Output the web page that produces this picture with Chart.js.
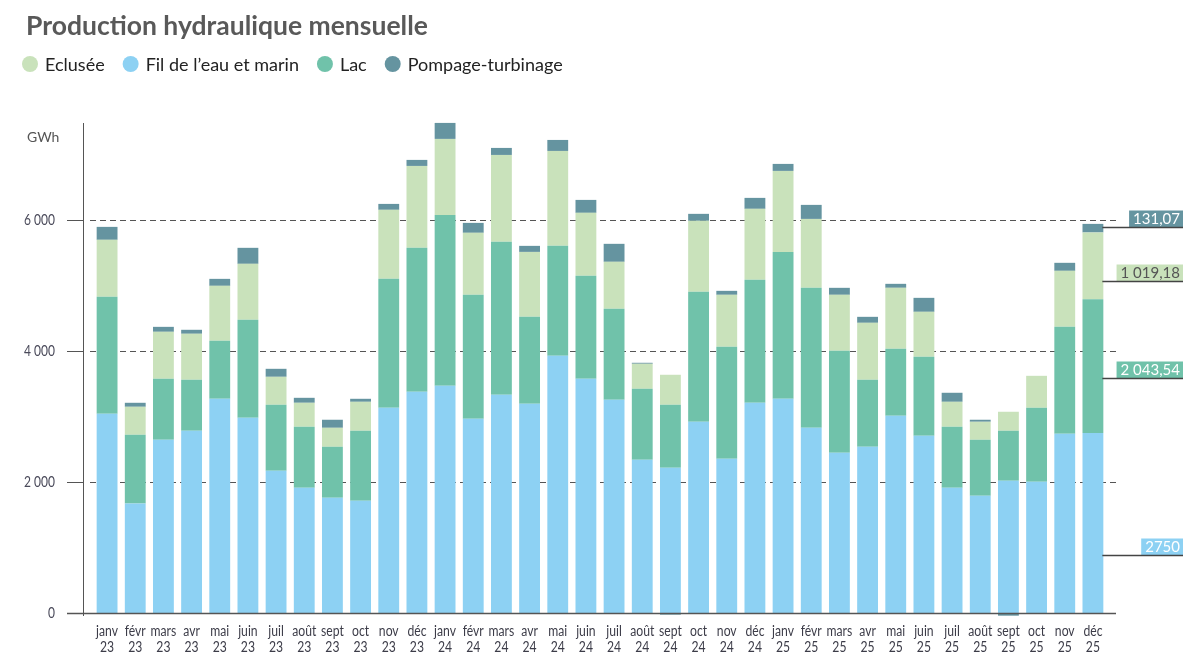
<!DOCTYPE html>
<html><head><meta charset="utf-8">
<script src="https://cdn.jsdelivr.net/npm/chart.js@4"></script>
<style>html,body{margin:0;padding:0;background:#fff}#wrap{width:1202px;height:662px;position:relative}canvas{display:block}</style>
</head><body><div id="wrap"><canvas id="c" width="1202" height="662"></canvas></div>
<script>
const chartTitle = 'Production hydraulique mensuelle';
const unitLabel = 'GWh';
const months = ['janv','févr','mars','avr','mai','juin','juil','août','sept','oct','nov','déc'];
const years = ['23','24','25'];
const seriesNames = ['Fil de l’eau et marin','Lac','Eclusée','Pompage-turbinage'];
const legendOrder = ['Eclusée','Fil de l’eau et marin','Lac','Pompage-turbinage'];
const yTicks = [0, 2000, 4000, 6000];

const filEau = [3043,1674,2646,2784,3272,2982,2173,1913,1761,1715,3135,3379,
                3471,2967,3333,3196,3929,3578,3257,2341,2219,2921,2356,3211,
                3272,2829,2448,2539,3013,2707,1913,1791,2020,2005,2738,2750];
const lac    = [1786,1049,932,778,886,1496,1008,932,778,1069,1969,2199,
                2610,1893,2336,1328,1679,1572,1389,1084,962,1985,1710,1878,
                2244,2138,1557,1023,1023,1206,932,855,764,1130,1633,2043.54];
const eclusee= [871,427,717,703,839,855,427,366,290,442,1054,1251,
                1161,947,1328,992,1450,962,718,382,458,1084,794,1084,
                1237,1053,855,870,931,687,381,275,290,488,855,1019.18];
const pompage= [198,61,76,61,107,245,122,76,123,46,91,92,
                244,152,107,92,168,198,275,15,-25,107,61,168,
                107,214,107,92,61,214,138,31,-41,0,123,131.07];

const colors = ['#8dd1f3','#70c2aa','#c9e2bb','#6594a0'];
const calloutText = ['#ffffff','#ffffff','#555555','#ffffff'];
const calloutAnchor = [0.32, 0.41, 0.275, 0.61];

const labels = [];
years.forEach(y => months.forEach(m => labels.push([m, y])));

const HUMAN = 'Lato, "Noto Sans", sans-serif';

function groupSp(s){ return s.replace(/\B(?=(\d{3})+(?!\d))/g,'\u00a0'); }
function fmtValue(v){
  if (Number.isInteger(v)) return String(v);
  const [i,d] = v.toFixed(2).split('.');
  return groupSp(i) + ',' + d;
}
function narrowText(ctx, txt, x, y, sx, align){
  ctx.save();
  ctx.translate(x, y);
  ctx.scale(sx, 1);
  ctx.textAlign = align;
  ctx.fillText(txt, 0, 0);
  ctx.restore();
}

const framePlugin = {
  id:'frame',
  beforeDatasetsDraw(chart){
    const {ctx, chartArea:a, scales:{y}} = chart;
    const axisX = a.left - 10, right = a.right + 9, tickStart = axisX - 16;
    ctx.save();
    ctx.strokeStyle = '#555'; ctx.lineWidth = 1;
    yTicks.forEach(v => {
      const py = Math.round(y.getPixelForValue(v)) + 0.5;
      ctx.setLineDash([]);
      ctx.beginPath(); ctx.moveTo(tickStart, py); ctx.lineTo(axisX, py); ctx.stroke();
      if (v !== 0) {
        ctx.setLineDash([6,4]);
        ctx.beginPath(); ctx.moveTo(axisX + 7, py); ctx.lineTo(right, py); ctx.stroke();
      }
    });
    ctx.setLineDash([]);
    ctx.beginPath();
    ctx.moveTo(Math.round(axisX)+0.5, a.top + 1);
    ctx.lineTo(Math.round(axisX)+0.5, y.getPixelForValue(0) + 3);
    ctx.stroke();
    ctx.fillStyle = '#4a4a5a';
    ctx.font = '15px ' + HUMAN;
    ctx.textBaseline = 'middle';
    yTicks.forEach(v => narrowText(ctx, groupSp(String(v)), 55, y.getPixelForValue(v), 0.8, 'right'));
    ctx.restore();
  },
  afterDatasetsDraw(chart){
    const {ctx, chartArea:a, scales:{x, y}} = chart;
    const axisX = a.left - 10, right = a.right + 9, tickStart = axisX - 16;
    const py = Math.round(y.getPixelForValue(0)) + 0.5;
    ctx.save();
    ctx.strokeStyle = '#555'; ctx.lineWidth = 1.3;
    ctx.beginPath(); ctx.moveTo(tickStart, py); ctx.lineTo(right, py); ctx.stroke();
    ctx.fillStyle = '#3c3c48';
    ctx.font = '14.5px ' + HUMAN;
    ctx.textBaseline = 'middle';
    chart.data.labels.forEach((lab, i) => {
      const px = x.getPixelForTick(i);
      narrowText(ctx, lab[0], px, a.bottom + 18.5, 0.84, 'center');
      narrowText(ctx, lab[1], px, a.bottom + 34.5, 0.84, 'center');
    });
    ctx.restore();
  }
};

const headerPlugin = {
  id:'header',
  afterDraw(chart){
    const ctx = chart.ctx;
    ctx.save();
    ctx.fillStyle = '#595959';
    ctx.font = 'bold 26.5px ' + HUMAN;
    ctx.textBaseline = 'alphabetic';
    ctx.fillText(chartTitle, 26, 35);
    ctx.font = '18px ' + HUMAN;
    ctx.textBaseline = 'middle';
    let x = 22; const cy = 64;
    legendOrder.forEach(name => {
      const i = chart.data.datasets.findIndex(d => d.label === name);
      ctx.fillStyle = chart.data.datasets[i].backgroundColor;
      ctx.beginPath(); ctx.arc(x + 8, cy, 8, 0, Math.PI*2); ctx.fill();
      ctx.fillStyle = '#222';
      ctx.fillText(name, x + 23, cy + 1);
      x += 23 + ctx.measureText(name).width + 18;
    });
    ctx.fillStyle = '#555';
    ctx.font = '14px ' + HUMAN;
    ctx.fillText(unitLabel, 27, 137);
    ctx.restore();
  }
};

const calloutPlugin = {
  id:'callout',
  afterDatasetsDraw(chart){
    const {ctx, chartArea:a, scales:{y}} = chart;
    const last = chart.data.labels.length - 1;
    const boxRight = a.right + 76;
    ctx.save();
    ctx.font = '15px ' + HUMAN;
    ctx.textBaseline = 'middle';
    ctx.textAlign = 'right';
    let base = 0;
    chart.data.datasets.forEach((ds, i) => {
      const v = ds.data[last];
      const bar = chart.getDatasetMeta(i).data[last];
      const py = Math.round(y.getPixelForValue(base + calloutAnchor[i] * v)) + 0.5;
      base += v;
      const txt = fmtValue(v);
      const w = ctx.measureText(txt).width + 7;
      ctx.fillStyle = ds.backgroundColor;
      ctx.fillRect(boxRight - w, py - 17, w, 17);
      ctx.fillStyle = calloutText[i];
      ctx.fillText(txt, boxRight - 3, py - 8);
      ctx.strokeStyle = '#444'; ctx.lineWidth = 1.3;
      ctx.beginPath(); ctx.moveTo(bar.x + bar.width/2 - 1, py); ctx.lineTo(boxRight, py); ctx.stroke();
    });
    ctx.restore();
  }
};

const seriesData = [filEau, lac, eclusee, pompage];
new Chart(document.getElementById('c'), {
  type:'bar',
  data:{
    labels,
    datasets: seriesNames.map((n,i) => ({
      label:n, data:seriesData[i], backgroundColor:colors[i],
      barPercentage:0.74, categoryPercentage:1, borderWidth:0, clip:false
    }))
  },
  options:{
    responsive:false, animation:false, devicePixelRatio:1,
    layout:{padding:{left:0,right:95,top:122,bottom:0}},
    plugins:{legend:{display:false}, title:{display:false}, tooltip:{enabled:false}},
    scales:{
      x:{stacked:true, grid:{display:false, drawTicks:false}, border:{display:false},
         ticks:{display:false}, afterFit(s){ s.height = 49; }},
      y:{stacked:true, min:0, max:7500, grid:{display:false, drawTicks:false}, border:{display:false},
         ticks:{display:false}, afterFit(s){ s.width = 93; }}
    }
  },
  plugins:[framePlugin, headerPlugin, calloutPlugin]
});
</script>
</body></html>
